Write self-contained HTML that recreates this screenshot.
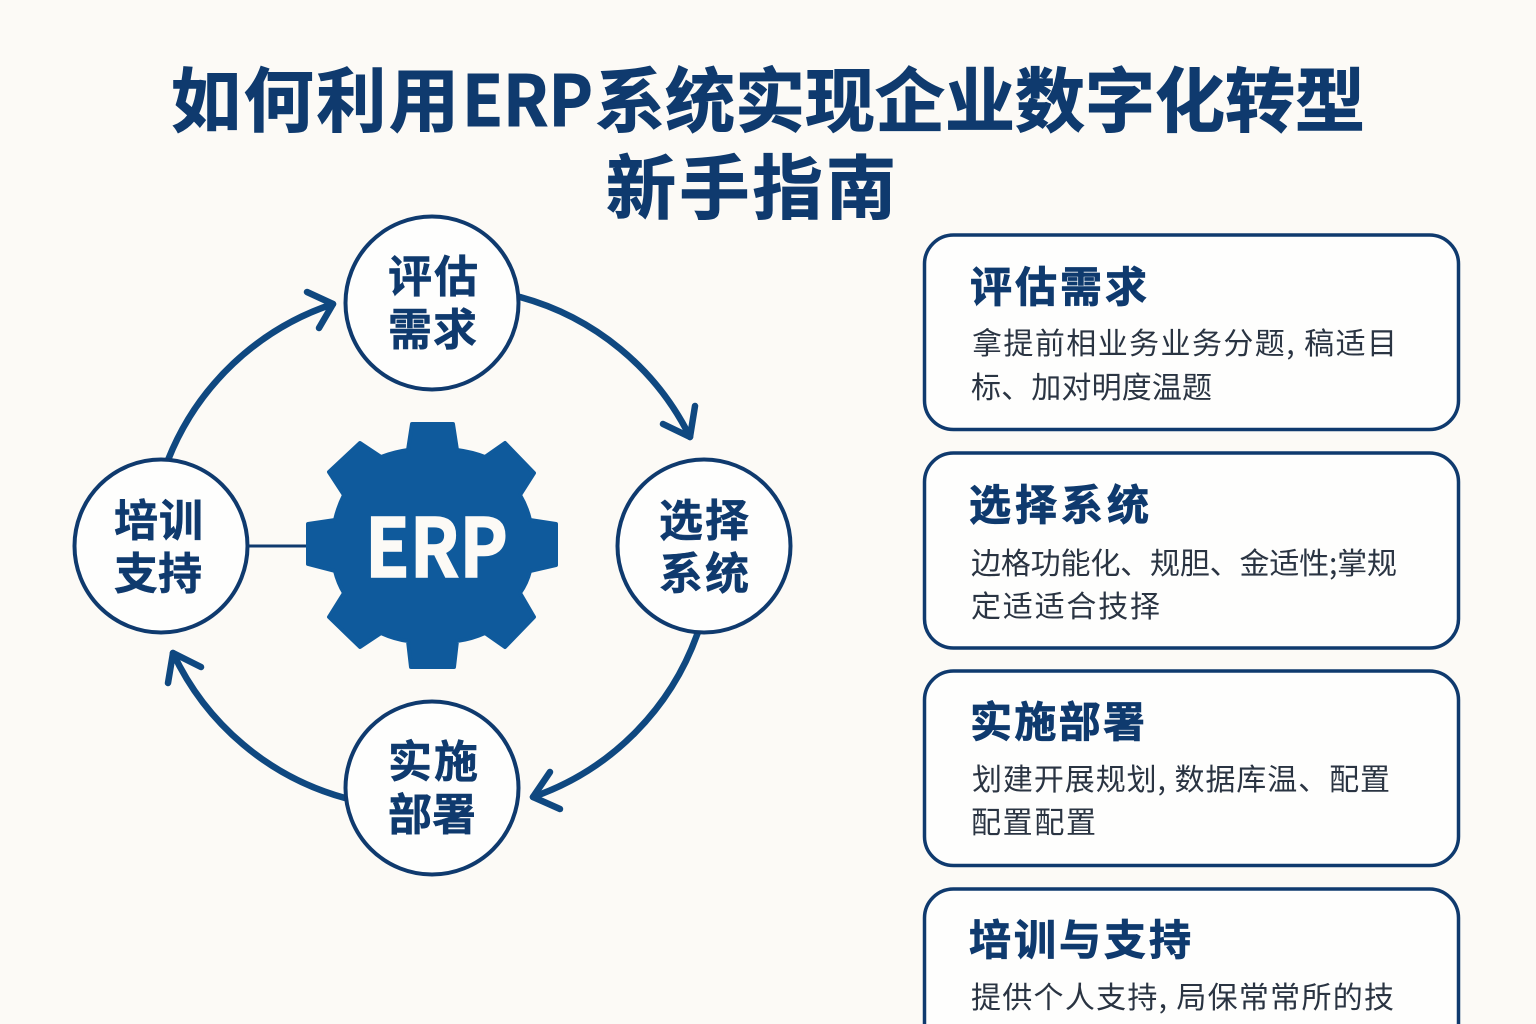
<!DOCTYPE html>
<html lang="zh"><head><meta charset="utf-8"><title>如何利用ERP系统实现企业数字化转型新手指南</title>
<style>
html,body{margin:0;padding:0;background:#fcfaf6}
svg{display:block}
text{font-family:"Liberation Sans","Noto Sans CJK SC",sans-serif}
.c{font-family:"Noto Sans CJK SC",sans-serif}
.t{font-weight:700;font-size:70px;fill:#0f3a6e;stroke:#0f3a6e;stroke-width:1}
.n{font-weight:700;font-size:44px;fill:#0f3a6e;stroke:#0f3a6e;stroke-width:.5}
.h{font-weight:700;font-size:42px;fill:#0f3a6e;stroke:#0f3a6e;stroke-width:.8}
.b{font-size:30px;fill:#2a3442}
</style></head><body>
<svg xmlns="http://www.w3.org/2000/svg" width="1536" height="1024" viewBox="0 0 1536 1024">
<rect width="1536" height="1024" fill="#fcfaf6"/>
<text class="c t" x="171" y="126" textLength="288">如何利用</text>
<text class="c t" x="462" y="126" textLength="131" lengthAdjust="spacingAndGlyphs">ERP</text>
<text class="c t" x="595" y="126" textLength="770">系统实现企业数字化转型</text>
<text class="c t" x="606" y="213" textLength="290">新手指南</text>

<g fill="none" stroke="#0f4880" stroke-width="6.5" stroke-linecap="round" stroke-linejoin="round">
<path d="M520 297A268 268 0 0 1 690 437"/><path d="M663 424L690 437L695 406"/>
<path d="M698 632A268 268 0 0 1 533 797"/><path d="M550 772L533 797L560 809"/>
<path d="M345 798A268 268 0 0 1 173 653"/><path d="M201 667L173 653L168 683"/>
<path d="M168 460A268 268 0 0 1 333 304"/><path d="M307 292L333 304L319 328"/>
</g>
<path d="M248 546H308" stroke="#0f3a6e" stroke-width="3"/>

<path fill="#0f5a9c" stroke="#0f5a9c" stroke-width="4" stroke-linejoin="round" d="M412 424H453L457 450Q472 452 485 457L505 443L534 473L520 495Q527 507 530 520L556 524V565L530 571Q527 583 520 593L534 617L505 647L485 633Q472 639 457 641L454 667H411L408 641Q394 639 381 633L360 647L329 617L344 593Q338 583 335 571L308 564V524L335 520Q338 507 344 495L329 472L360 443L381 457Q394 452 408 450Z"/>
<text class="c" x="365" y="577" textLength="143" lengthAdjust="spacingAndGlyphs" font-size="81" font-weight="700" fill="#fcfaf6" stroke="#fcfaf6" stroke-width="1.5">ERP</text>

<g fill="#fefefd" stroke="#0f3a6e" stroke-width="4">
<circle cx="432" cy="303" r="86.5"/><circle cx="704" cy="546" r="86.5"/><circle cx="432" cy="788" r="86.5"/><circle cx="161" cy="546" r="86.5"/>
</g>
<text class="c n" x="388" y="292" textLength="90">评估</text>
<text class="c n" x="388" y="345" textLength="89">需求</text>
<text class="c n" x="659" y="536" textLength="90">选择</text>
<text class="c n" x="659" y="589" textLength="90">系统</text>
<text class="c n" x="388" y="777" textLength="90">实施</text>
<text class="c n" x="388" y="830" textLength="88">部署</text>
<text class="c n" x="114" y="536" textLength="89">培训</text>
<text class="c n" x="114" y="589" textLength="88">支持</text>

<g fill="#fefefd" stroke="#0f3a6e" stroke-width="3.5">
<rect x="924.5" y="235" width="534" height="194.5" rx="29"/>
<rect x="924.5" y="453" width="534" height="195" rx="29"/>
<rect x="924.5" y="671" width="534" height="194.5" rx="29"/>
<rect x="924.5" y="889" width="534" height="170" rx="29"/>
</g>
<text class="c h" x="970" y="302" textLength="177">评估需求</text>
<text class="c b" x="972" y="354" textLength="425">拿提前相业务业务分题, 稿适目</text>
<text class="c b" x="971" y="398" textLength="241">标、加对明度温题</text>
<text class="c h" x="969" y="520" textLength="180">选择系统</text>
<text class="c b" x="971" y="574" textLength="426">边格功能化、规胆、金适性;掌规</text>
<text class="c b" x="971" y="617" textLength="189">定适适合技择</text>
<text class="c h" x="970" y="737" textLength="175">实施部署</text>
<text class="c b" x="972" y="790" textLength="418">划建开展规划, 数据库温、配置</text>
<text class="c b" x="971" y="833" textLength="125">配置配置</text>
<text class="c h" x="969" y="955" textLength="222">培训与支持</text>
<text class="c b" x="971" y="1008" textLength="423">提供个人支持, 局保常常所的技</text>
</svg>
</body></html>
